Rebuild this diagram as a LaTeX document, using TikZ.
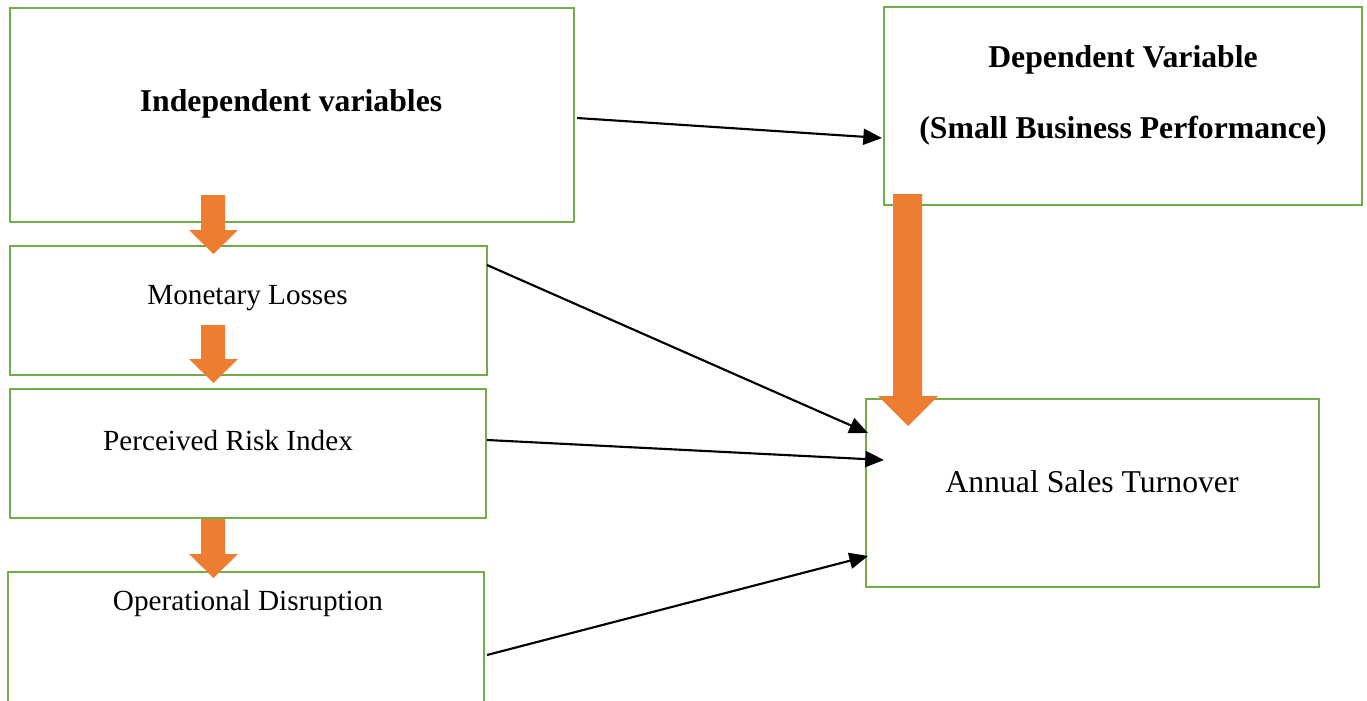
\documentclass[tikz,border=0pt]{standalone}
\usepackage{fontspec}
\setmainfont{Liberation Serif}
\usepackage{xcolor}
\usepackage{tikz}
\usetikzlibrary{arrows.meta}

\definecolor{boxgreen}{HTML}{70AD47}
\definecolor{flowor}{HTML}{ED7D31}

\tikzset{
    varbox/.style={draw=boxgreen, line width=1.6pt, fill=white, inner sep=0pt},
    vartext/.style={font=\fontsize{23.8}{28}\selectfont, inner sep=0pt},
    vartexts/.style={font=\fontsize{21.9}{26}\selectfont, inner sep=0pt},
    vartextb/.style={vartext, font=\fontsize{23.8}{28}\selectfont\bfseries},
    link/.style={line width=1.6pt, -{Triangle[length=14pt,width=12pt]}},
    flow/.style={fill=flowor}
}

\begin{document}
\begin{tikzpicture}[x=0.75pt, y=-0.75pt]
\useasboundingbox (0, 0) rectangle (1367, 700);

% boxes
\node [varbox, minimum width=564*0.75pt, minimum height=214*0.75pt] (iv) at (292, 115) {};
\node [varbox, minimum width=478*0.75pt, minimum height=198*0.75pt] (dv) at (1123, 106) {};
\node [varbox, minimum width=477*0.75pt, minimum height=129*0.75pt] (ml) at (248.5, 310.5) {};
\node [varbox, minimum width=476*0.75pt, minimum height=129*0.75pt] (pr) at (248, 453.5) {};
\node [varbox, minimum width=476*0.75pt, minimum height=160*0.75pt] (od) at (246, 652) {};
\node [varbox, minimum width=453*0.75pt, minimum height=188*0.75pt] (as) at (1092.5, 493) {};

% texts
\node [vartextb] (ivt) at (291, 104) {Independent variables};
\node [vartextb] (dvt1) at (1123, 60) {Dependent Variable};
\node [vartextb] (dvt2) at (1123, 131) {(Small Business Performance)};
\node [vartexts] (mlt) at (247.5, 298) {Monetary Losses};
\node [vartexts] (prt) at (228, 441) {Perceived Risk Index};
\node [vartexts] (odt) at (248, 603) {Operational Disruption};
\node [vartext] (ast) at (1092, 482) {Annual Sales Turnover};

% orange flow arrows
\fill [flow] (201, 195) -- (225, 195) -- (225, 230) -- (238, 230)
    -- (213.5, 254) -- (189, 230) -- (201, 230) -- cycle;
\fill [flow] (201, 325) -- (225, 325) -- (225, 359) -- (238, 359)
    -- (213.5, 383) -- (189, 359) -- (201, 359) -- cycle;
\fill [flow] (201, 519) -- (225, 519) -- (225, 554) -- (238, 554)
    -- (213.5, 578) -- (189, 554) -- (201, 554) -- cycle;
\fill [flow] (893, 194) -- (922, 194) -- (922, 396) -- (938, 396)
    -- (908, 426) -- (878, 396) -- (893, 396) -- cycle;

% black links
\coordinate (ivout) at (577, 118);
\coordinate (dvin) at (882, 138);
\coordinate (mlout) at (487, 265);
\coordinate (asin1) at (868, 433);
\coordinate (prout) at (487, 440);
\coordinate (asin2) at (884, 460);
\coordinate (odout) at (487, 655);
\coordinate (asin3) at (868, 556);
\draw [link] (ivout) -- (dvin);
\draw [link] (mlout) -- (asin1);
\draw [link] (prout) -- (asin2);
\draw [link] (odout) -- (asin3);
\end{tikzpicture}
\end{document}
